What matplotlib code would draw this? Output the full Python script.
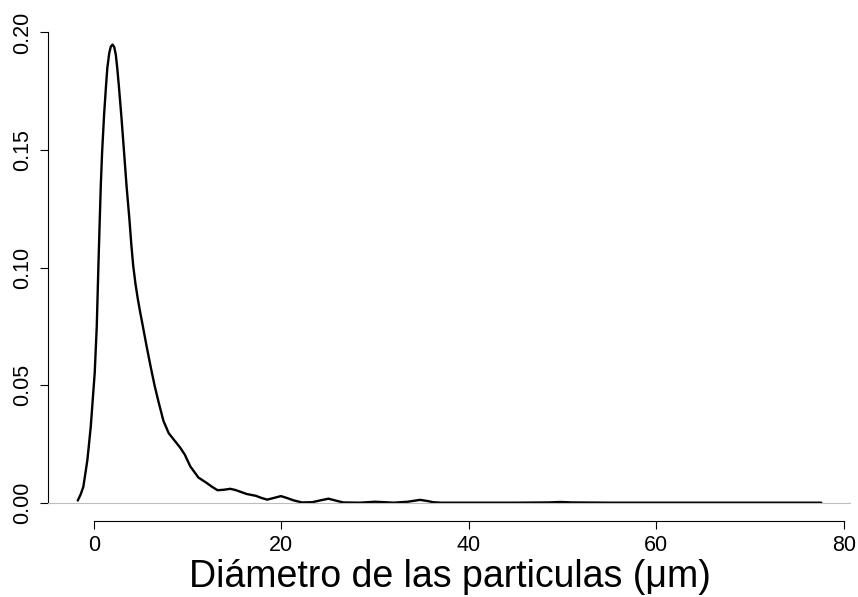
import matplotlib
matplotlib.use("Agg")
import matplotlib.pyplot as plt

plt.rcParams["font.family"] = ["Liberation Sans", "DejaVu Sans"]

# Kernel density of particle diameters (µm), read as (diameter, density) pairs
diameter = [-1.71, -1.40, -1.11, -0.68, -0.32, 0.10, 0.32, 0.50, 0.64, 0.75,
            0.89, 1.10, 1.31, 1.45, 1.65, 1.82, 2.00, 2.18, 2.35, 2.50,
            2.67, 2.95, 3.23, 3.50, 3.80, 4.00, 4.20, 4.45, 4.70, 4.95,
            5.20, 5.66, 6.10, 6.50, 6.90, 7.43, 8.00, 8.60, 9.20, 9.70,
            10.30, 11.16, 12.00, 12.60, 13.20, 13.90, 14.55, 15.10, 15.60, 16.30,
            17.30, 17.90, 18.50, 19.20, 19.96, 20.60, 21.30, 22.20, 23.30, 24.20,
            25.04, 25.80, 26.60, 28.40, 30.00, 31.00, 32.00, 33.50, 34.80, 35.60,
            36.20, 37.00, 45.00, 48.50, 49.80, 51.00, 55.00, 77.60]
density = [0.0009, 0.0035, 0.0068, 0.0182, 0.0324, 0.0552, 0.0751, 0.1015, 0.1206, 0.1350,
           0.1491, 0.1650, 0.1775, 0.1850, 0.1912, 0.1940, 0.1948, 0.1938, 0.1905, 0.1850,
           0.1775, 0.1640, 0.1491, 0.1345, 0.1206, 0.1100, 0.1010, 0.0930, 0.0866, 0.0810,
           0.0758, 0.0660, 0.0572, 0.0496, 0.0430, 0.0348, 0.0295, 0.0265, 0.0235, 0.0205,
           0.0154, 0.0107, 0.0085, 0.0068, 0.0053, 0.0055, 0.0059, 0.0054, 0.0047, 0.0037,
           0.0029, 0.0020, 0.0013, 0.0020, 0.0028, 0.0020, 0.0010, 0.0001, 0.0002, 0.0010,
           0.0017, 0.0009, 0.0001, 0.0000, 0.0004, 0.0002, 0.0000, 0.0004, 0.0012, 0.0007,
           0.0002, 0.0000, 0.0000, 0.0001, 0.0003, 0.0001, 0.0000, 0.0000]

x_ticks = [0, 20, 40, 60, 80]
y_ticks = [0.00, 0.05, 0.10, 0.15, 0.20]
y_tick_labels = ["0.00", "0.05", "0.10", "0.15", "0.20"]
x_label = "Diámetro de las particulas (μm)"

fig = plt.figure(figsize=(8.58, 5.97), dpi=100)
ax = fig.add_axes([48 / 858, 76 / 597, 803 / 858, 494.7 / 597])

ax.plot(diameter, density, color="black", lw=1.7, solid_joinstyle="round",
        solid_capstyle="round", zorder=2)
ax.axhline(0, color="#BEBEBE", lw=0.8, zorder=3)

# R-style ranges: 4% padding around the data
xmin, xmax = min(diameter), max(diameter)
ymax = max(density)
dx = (xmax - xmin) * 0.04
ax.set_xlim(xmin - dx, xmax + dx)
ax.set_ylim(-0.04 * ymax, 1.04 * ymax)

ax.spines["top"].set_visible(False)
ax.spines["right"].set_visible(False)
ax.spines["bottom"].set_bounds(x_ticks[0], x_ticks[-1])
ax.spines["left"].set_bounds(y_ticks[0], y_ticks[-1])
for s in ("bottom", "left"):
    ax.spines[s].set_linewidth(0.8)

ax.set_xticks(x_ticks)
ax.set_xticklabels([str(v) for v in x_ticks])
ax.set_yticks(y_ticks)
ax.set_yticklabels(y_tick_labels, rotation=90, va="center")
ax.tick_params(axis="both", length=6, width=0.8, labelsize=15.5, pad=4)
ax.tick_params(axis="y", pad=5)

ax.set_xlabel(x_label, fontsize=27, labelpad=2)

fig.savefig("out.png", dpi=100)
